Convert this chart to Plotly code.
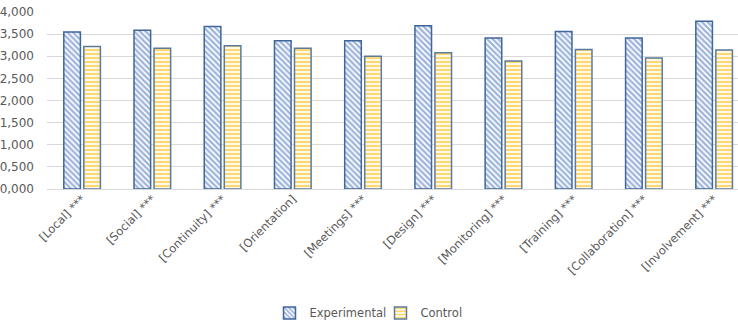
import plotly.graph_objects as go

categories = ["[Local] ***", "[Social] ***", "[Continuity] ***", "[Orientation]",
              "[Meetings] ***", "[Design] ***", "[Monitoring] ***", "[Training] ***",
              "[Collaboration] ***", "[Involvement] ***"]
experimental = [3.55, 3.59, 3.67, 3.35, 3.35, 3.69, 3.41, 3.56, 3.41, 3.79]
control = [3.22, 3.18, 3.24, 3.18, 3.00, 3.08, 2.89, 3.15, 2.96, 3.14]
y_ticks = [0, 0.5, 1.0, 1.5, 2.0, 2.5, 3.0, 3.5, 4.0]

FONT = "DejaVu Sans"

fig = go.Figure()
fig.add_trace(go.Bar(
    name="Experimental", x=categories, y=experimental,
    marker=dict(color="white",
                line=dict(color="#41669A", width=1.5),
                pattern=dict(shape="\\", fgcolor="#3A68B8", bgcolor="white",
                             size=4, solidity=0.55, fillmode="overlay")),
))
fig.add_trace(go.Bar(
    name="Control", x=categories, y=control,
    marker=dict(color="white",
                line=dict(color="#5B7B9E", width=1.5),
                pattern=dict(shape="-", fgcolor="#F5B800", bgcolor="#FFF8E6",
                             size=4, solidity=0.5, fillmode="overlay")),
))

fig.update_layout(
    width=738, height=328,
    margin=dict(l=47, r=0, t=12, b=139, autoexpand=False),
    paper_bgcolor="white", plot_bgcolor="white",
    barmode="group", bargap=0.43, bargroupgap=0.17,
    separators=",.",
    font=dict(family=FONT, size=12, color="#595959"),
    showlegend=True,
    legend=dict(orientation="h", x=0.322, xanchor="left", y=-0.70, yanchor="middle",
                font=dict(family=FONT, size=11.5, color="#595959"),
                itemwidth=30, traceorder="normal",
                entrywidth=66, entrywidthmode="pixels"),
)
fig.update_xaxes(tickangle=-45, range=[-0.5, 9.34], showgrid=False, automargin=False,
                 showline=False, ticks="", tickfont=dict(size=11.5, color="#595959"))
fig.update_yaxes(range=[0, 4.0], tickvals=y_ticks, tickformat=".3f", automargin=False,
                 showgrid=True, gridcolor="#D9D9D9", gridwidth=1,
                 zeroline=True, zerolinecolor="#D9D9D9", zerolinewidth=1,
                 ticks="", ticklabelstandoff=12,
                 tickfont=dict(size=12, color="#595959"))

fig.write_html("out.html")
